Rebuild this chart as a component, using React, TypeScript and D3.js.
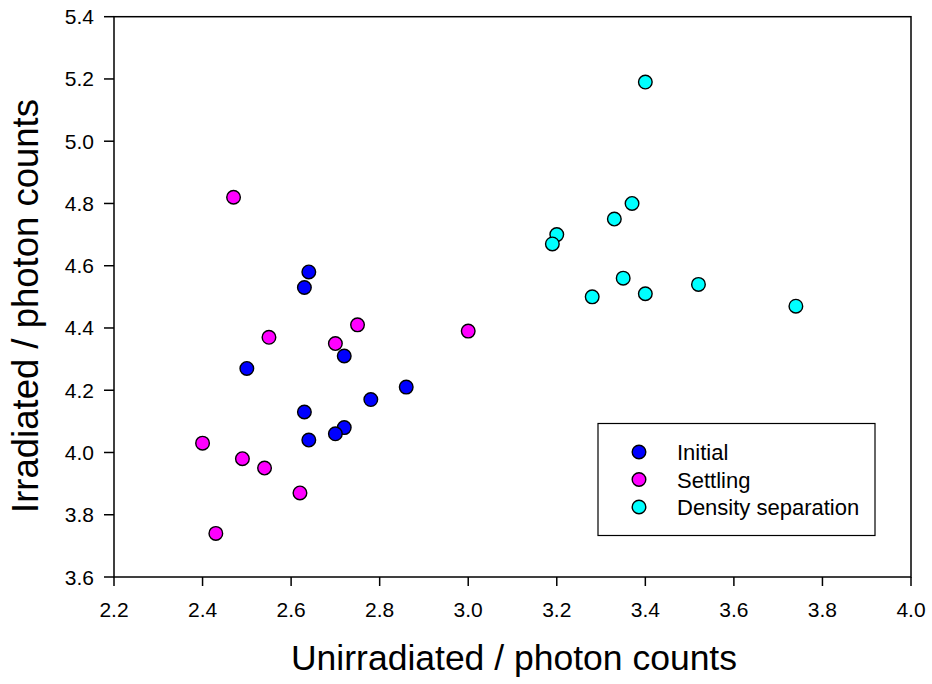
import React from "react";
import * as d3 from "d3";

const initialX = [2.64, 2.63, 2.50, 2.72, 2.86, 2.78, 2.63, 2.72, 2.70, 2.64];
const initialY = [4.58, 4.53, 4.27, 4.31, 4.21, 4.17, 4.13, 4.08, 4.06, 4.04];
const settlingX = [2.47, 2.55, 2.75, 2.70, 3.00, 2.40, 2.49, 2.54, 2.62, 2.43];
const settlingY = [4.82, 4.37, 4.41, 4.35, 4.39, 4.03, 3.98, 3.95, 3.87, 3.74];
const densityX = [3.40, 3.37, 3.33, 3.20, 3.19, 3.35, 3.28, 3.40, 3.52, 3.74];
const densityY = [5.19, 4.80, 4.75, 4.70, 4.67, 4.56, 4.50, 4.51, 4.54, 4.47];

const seriesNames = ["Initial", "Settling", "Density separation"];
const seriesColors = ["#0000ff", "#ff00ff", "#00ffff"];
const xTicks = [2.2, 2.4, 2.6, 2.8, 3.0, 3.2, 3.4, 3.6, 3.8, 4.0];
const yTicks = [3.6, 3.8, 4.0, 4.2, 4.4, 4.6, 4.8, 5.0, 5.2, 5.4];

const W = 932;
const H = 684;
const L = 114, R = 911, T = 16.7, B = 577;
const font = "Arial, 'Liberation Sans', sans-serif";

export default function App() {
  const x = d3.scaleLinear().domain([2.2, 4.0]).range([L, R]);
  const y = d3.scaleLinear().domain([3.6, 5.4]).range([B, T]);
  const series = [
    { xs: initialX, ys: initialY },
    { xs: settlingX, ys: settlingY },
    { xs: densityX, ys: densityY },
  ];
  return (
    <svg width={W} height={H} style={{ position: "fixed", left: 0, top: 0, background: "#fff" }}>
      <rect x={0} y={0} width={W} height={H} fill="#fff" />
      <rect x={L} y={T} width={R - L} height={B - T} fill="none" stroke="#000" strokeWidth={1.5} />
      {xTicks.map((t) => (
        <g key={"x" + t}>
          <line x1={x(t)} x2={x(t)} y1={B} y2={B + 9} stroke="#000" strokeWidth={1.5} />
          <text x={x(t)} y={617} fontFamily={font} fontSize={21} textAnchor="middle" fill="#000">
            {t.toFixed(1)}
          </text>
        </g>
      ))}
      {yTicks.map((t) => (
        <g key={"y" + t}>
          <line x1={L - 10} x2={L} y1={y(t)} y2={y(t)} stroke="#000" strokeWidth={1.5} />
          <text x={L - 20} y={y(t) + 7.5} fontFamily={font} fontSize={21} textAnchor="end" fill="#000">
            {t.toFixed(1)}
          </text>
        </g>
      ))}
      {series.map((s, si) =>
        s.xs.map((xv, i) => (
          <circle key={si + "-" + i} cx={x(xv)} cy={y(s.ys[i])} r={6.8} fill={seriesColors[si]} stroke="#000" strokeWidth={1.4} />
        ))
      )}
      <text x={514} y={670} fontFamily={font} fontSize={35.5} textAnchor="middle" fill="#000">
        Unirradiated / photon counts
      </text>
      <text transform={`translate(38, 306) rotate(-90)`} fontFamily={font} fontSize={36.5} textAnchor="middle" fill="#000">
        Irradiated / photon counts
      </text>
      <rect x={598} y={423.5} width={277} height={112} fill="#fff" stroke="#000" strokeWidth={1.2} />
      {seriesNames.map((n, i) => (
        <g key={n}>
          <circle cx={639} cy={452 + i * 27.5} r={6.8} fill={seriesColors[i]} stroke="#000" strokeWidth={1.4} />
          <text x={677} y={452 + i * 27.5 + 8} fontFamily={font} fontSize={22} fill="#000">
            {n}
          </text>
        </g>
      ))}
    </svg>
  );
}
